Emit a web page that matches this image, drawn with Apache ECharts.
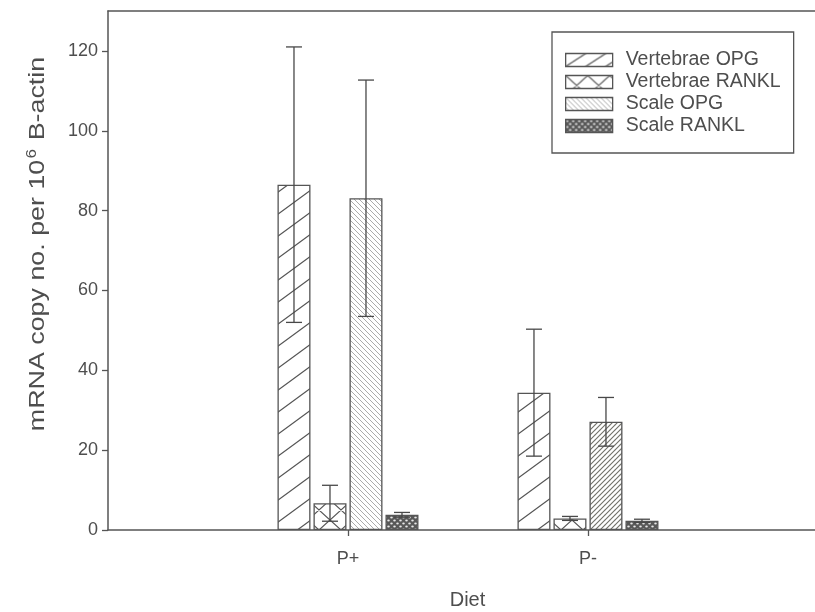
<!DOCTYPE html>
<html><head><meta charset="utf-8">
<script src="https://cdn.jsdelivr.net/npm/echarts@6/dist/echarts.min.js"></script>
<style>html,body{margin:0;padding:0;background:#fff}#c{width:815px;height:612px}</style>
</head><body><div id="c"></div>
<script>
// ---- data ----
const categories = ['P+', 'P-'];
const seriesNames = ['Vertebrae OPG', 'Vertebrae RANKL', 'Scale OPG', 'Scale RANKL'];
const vertebraeOPG = [86.5, 34.4];
const vertebraeOPGErr = [34.5, 15.9];
const vertebraeRANKL = [6.7, 2.9];
const vertebraeRANKLErr = [4.5, 0.5];
const scaleOPG = [83.1, 27.1];
const scaleOPGErr = [29.6, 6.1];
const scaleRANKL = [3.8, 2.3];
const scaleRANKLErr = [0.6, 0.4];
const yTicks = [0, 20, 40, 60, 80, 100, 120];
const xTitle = 'Diet';

// ---- patterns ----
function makePattern(w, h, bg, draw) {
  const c = document.createElement('canvas');
  c.width = w; c.height = h;
  const g = c.getContext('2d');
  g.fillStyle = bg; g.fillRect(0, 0, w, h);
  draw(g, w, h);
  return { image: c, repeat: 'repeat' };
}
function lines(g, w, h, color, lw, dirs) {
  g.strokeStyle = color; g.lineWidth = lw; g.beginPath();
  for (const ox of [-w, 0, w]) for (const oy of [-h, 0, h]) {
    if (dirs.indexOf('/') >= 0) { g.moveTo(ox, h + oy); g.lineTo(w + ox, oy); }
    if (dirs.indexOf('\\') >= 0) { g.moveTo(ox, oy); g.lineTo(w + ox, h + oy); }
  }
  g.stroke();
}
const patVOPG = makePattern(30, 22, '#ffffff', (g, w, h) => lines(g, w, h, '#555555', 1.2, '/'));
const patVOPGLeg = makePattern(20, 13, '#ffffff', (g, w, h) => lines(g, w, h, '#555555', 1.2, '/'));
const patVRANKL = makePattern(22, 20, '#ffffff', (g, w, h) => lines(g, w, h, '#555555', 1.2, '/\\'));
const patSOPG = makePattern(5, 5, '#ffffff', (g, w, h) => lines(g, w, h, '#ababab', 1, '\\'));
const patSOPG2 = makePattern(5, 5, '#ffffff', (g, w, h) => lines(g, w, h, '#707068', 1.1, '/'));
const patSRANKL = makePattern(6, 6, '#585858', (g) => {
  g.fillStyle = '#e8e8e8';
  [[1.5, 1.5], [4.5, 4.5]].forEach(p => { g.beginPath(); g.ellipse(p[0], p[1], 1.3, 1.1, 0, 0, Math.PI * 2); g.fill(); });
});

const values = [vertebraeOPG, vertebraeRANKL, scaleOPG, scaleRANKL];
const errs = [vertebraeOPGErr, vertebraeRANKLErr, scaleOPGErr, scaleRANKLErr];
const pats = [patVOPG, patVRANKL, patSOPG, patSRANKL];
const legPats = [patVOPGLeg, patVRANKL, patSOPG, patSRANKL];

const BAR_W = 33, GAP = 3;
const FONT = 'Liberation Sans, Arial, sans-serif';
const TXT = '#4e4e4e';
const LINE = '#555555';

const series = [];
values.forEach((vals, i) => {
  series.push({
    name: seriesNames[i],
    type: 'bar',
    barWidth: BAR_W,
    barGap: (GAP / BAR_W * 100) + '%',
    itemStyle: { color: pats[i], borderColor: LINE, borderWidth: 1.3 },
    data: vals.map((v, k) => {
      const d = { value: [k + 1, v] };
      if (i === 2 && k === 1) d.itemStyle = { color: patSOPG2 };
      return d;
    }),
    z: 2
  });
});
values.forEach((vals, i) => {
  const off = (i - 1.5) * (BAR_W + GAP);
  series.push({
    name: 'err' + i,
    type: 'custom',
    z: 5,
    data: vals.map((v, k) => [k + 1, v - errs[i][k], v + errs[i][k]]),
    renderItem: (params, api) => {
      const x = api.value(0);
      const pHi = api.coord([x, api.value(2)]);
      const pLo = api.coord([x, api.value(1)]);
      const cx = pHi[0] + off, hw = 8;
      const st = { stroke: '#484848', lineWidth: 1.3 };
      return { type: 'group', children: [
        { type: 'line', shape: { x1: cx, y1: pHi[1], x2: cx, y2: pLo[1] }, style: st },
        { type: 'line', shape: { x1: cx - hw, y1: pHi[1], x2: cx + hw, y2: pHi[1] }, style: st },
        { type: 'line', shape: { x1: cx - hw, y1: pLo[1], x2: cx + hw, y2: pLo[1] }, style: st }
      ]};
    }
  });
});

const chart = echarts.init(document.getElementById('c'), null, { renderer: 'canvas' });
chart.setOption({
  animation: false,
  backgroundColor: '#ffffff',
  grid: { left: 108, right: 0, top: 11, bottom: 82, containLabel: false, outerBoundsMode: 'none' },
  legend: {
    orient: 'vertical', left: 552, top: 32,
    padding: [17, 13, 16, 13],
    itemWidth: 47, itemHeight: 13, itemGap: 0, icon: 'rect',
    borderColor: LINE, borderWidth: 1.3,
    textStyle: { fontSize: 19.5, color: TXT, fontFamily: FONT, lineHeight: 22, padding: [0, 0, 0, 8] },
    data: seriesNames.map((n, i) => ({ name: n, itemStyle: { color: legPats[i], borderColor: LINE, borderWidth: 1.3 } }))
  },
  xAxis: [{
    type: 'value', min: 0, max: 2.946,
    name: xTitle, nameLocation: 'middle', nameGap: 60,
    nameTextStyle: { fontSize: 20, color: TXT, fontFamily: FONT, padding: [0, 0, 0, 12] },
    splitLine: { show: false },
    axisLine: { lineStyle: { color: LINE, width: 1.5 } },
    axisTick: { customValues: [1, 2], length: 6, lineStyle: { color: LINE, width: 1.3 } },
    axisLabel: { customValues: [1, 2], margin: 20, fontSize: 18, color: TXT, fontFamily: FONT,
      formatter: v => categories[Math.round(v) - 1] || '' }
  }, {
    type: 'value', position: 'top', min: 0, max: 2.946,
    splitLine: { show: false }, axisTick: { show: false }, axisLabel: { show: false },
    axisLine: { show: true, lineStyle: { color: LINE, width: 1.5 } }
  }],
  yAxis: {
    type: 'value', min: 0, max: 130, interval: 20,
    splitLine: { show: false },
    axisLine: { show: true, lineStyle: { color: LINE, width: 1.5 } },
    axisTick: { show: true, customValues: yTicks, length: 6, lineStyle: { color: LINE, width: 1.3 } },
    axisLabel: { customValues: yTicks, margin: 10, fontSize: 18, color: TXT, fontFamily: FONT }
  },
  graphic: [{
    type: 'text', x: 38, y: 244, rotation: Math.PI / 2, scaleX: 1.22,
    style: {
      text: '{a|mRNA copy no. per 10}{s|6}{a| B-actin}',
      align: 'center', verticalAlign: 'middle',
      rich: {
        a: { fontSize: 22, fill: TXT, fontFamily: FONT },
        s: { fontSize: 14, fill: TXT, fontFamily: FONT, padding: [0, 1, 12, 1] }
      }
    }
  }],
  series: series
});
</script>
</body></html>
